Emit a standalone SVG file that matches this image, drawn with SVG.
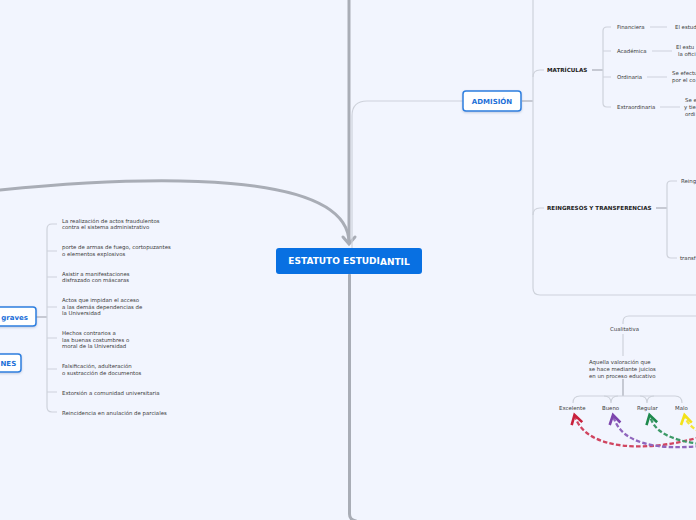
<svg xmlns="http://www.w3.org/2000/svg" width="696" height="520" viewBox="0 0 696 520">
<style>
.bg{fill:#f2f5fe}
.main{fill:none;stroke:#a9adb6;stroke-width:3;stroke-linecap:round}
.lc{fill:none;stroke:#ced2db;stroke-width:1.2}
.dc{fill:none;stroke:#b3b7c0;stroke-width:1.4}
.t{font-family:"DejaVu Sans",Verdana,sans-serif;font-size:5.4px;fill:#3a3a3a}
.b{font-family:"DejaVu Sans",Verdana,sans-serif;font-size:5.6px;font-weight:bold;fill:#222}
.nb{fill:#ffffff;stroke:#2b7fe0;stroke-width:1.5}
.nt{font-family:"DejaVu Sans",Verdana,sans-serif;font-size:7px;font-weight:bold;fill:#1c6fd8}
.da{fill:none;stroke-width:2.3;stroke-dasharray:4.5 2.2}
</style>
<defs>
<filter id="sh" x="-20%" y="-20%" width="140%" height="160%"><feDropShadow dx="0" dy="1" stdDeviation="0.8" flood-color="#8aa0c0" flood-opacity="0.5"/></filter>
<marker id="mr" markerUnits="userSpaceOnUse" markerWidth="20" markerHeight="20" viewBox="-12 -10 16 20" refX="0" refY="0" orient="auto"><path d="M-9,-5.5 L0,0 L-9,5.5" fill="none" stroke="#c8203c" stroke-width="2.6"/></marker>
<marker id="mp" markerUnits="userSpaceOnUse" markerWidth="20" markerHeight="20" viewBox="-12 -10 16 20" refX="0" refY="0" orient="auto"><path d="M-9,-5.5 L0,0 L-9,5.5" fill="none" stroke="#7d45ad" stroke-width="2.6"/></marker>
<marker id="mg" markerUnits="userSpaceOnUse" markerWidth="20" markerHeight="20" viewBox="-12 -10 16 20" refX="0" refY="0" orient="auto"><path d="M-9,-5.5 L0,0 L-9,5.5" fill="none" stroke="#1f8a4e" stroke-width="2.6"/></marker>
<marker id="my" markerUnits="userSpaceOnUse" markerWidth="20" markerHeight="20" viewBox="-12 -10 16 20" refX="0" refY="0" orient="auto"><path d="M-9,-5.5 L0,0 L-9,5.5" fill="none" stroke="#f3e21a" stroke-width="2.6"/></marker>
</defs>
<rect class="bg" x="0" y="0" width="696" height="520"/>

<g id="connectors">
  <path class="main" d="M349,0 V243"/>
  <path class="main" d="M0,190 C150,175 349,170 349,243"/>
  <path class="main" d="M343,237 L349,244 L355,237"/>
  <path class="main" d="M349.5,275 V514 Q349.5,520 356,521"/>
  <path class="lc" d="M463,101 H367 Q352,101 352,116 V248"/>
  <path class="dc" d="M522,101 H533"/>
  <path class="lc" d="M533,0 V288 Q533,295 540,295 H700"/>
  <path class="lc" d="M533,77 Q533,70 540,70 H544"/>
  <path class="lc" d="M533,215 Q533,208 540,208 H544"/>
  <path class="dc" d="M592,70 H603"/>
  <path class="lc" d="M611,27 H607 Q603,27 603,31 V103 Q603,107 607,107 H611"/>
  <path class="lc" d="M603,51 H611 M603,77 H611"/>
  <path class="lc" d="M650,27 H667 M652,51 H672 M647,77 H667 M660,107 H680"/>
  <path class="dc" d="M656,208 H667"/>
  <path class="lc" d="M677,181 H671 Q667,181 667,185 V254 Q667,258 671,258 H677"/>
  <path class="lc" d="M700,316 H629 Q623,316 623,322 V324"/>
  <path class="lc" d="M623,334 V356"/>
  <path class="dc" d="M623,379 V396"/>
  <path class="lc" d="M573,403 Q573,396 580,396 H675 Q682,396 682,403"/>
  <path class="lc" d="M604,396 Q611,396 611,403 Q611,396 618,396"/>
  <path class="lc" d="M640,396 Q647,396 647,403 Q647,396 654,396"/>
  <path class="dc" d="M36,317 H47"/>
  <path class="lc" d="M57,224 H52 Q47,224 47,229 V407 Q47,412 52,412 H57"/>
  <path class="lc" d="M47,251 H57 M47,277 H57 M47,307 H57 M47,338 H57 M47,369 H57 M47,392 H57"/>
  <path class="da" stroke="#d04560" d="M700,437 C650,452 585,452 574.5,415" marker-end="url(#mr)"/>
  <path class="da" stroke="#9066bd" d="M700,446 C660,450 620,445 613,415" marker-end="url(#mp)"/>
  <path class="da" stroke="#3d9a68" d="M700,444 C670,440 654,432 649.5,415" marker-end="url(#mg)"/>
  <path class="da" stroke="#f5e43a" d="M700,432 C692,428 686,422 684.5,415" marker-end="url(#my)"/>
</g>

<g id="central">
  <rect x="276" y="248" width="146" height="26" rx="3" fill="#0870e2"/>
  <text x="349" y="264" text-anchor="middle" font-family="'DejaVu Sans',Verdana,sans-serif" font-size="9" font-weight="bold" fill="#ffffff">ESTATUTO ESTUDI<tspan dy="1">ANTIL</tspan></text>
</g>

<g id="admision">
  <rect class="nb" x="463" y="91" width="58" height="20" rx="3" filter="url(#sh)"/>
  <text class="nt" x="492" y="104" text-anchor="middle">ADMISIÓN</text>
</g>

<g id="matriculas"><text class="b" x="547" y="72">MATRÍCULAS</text></g>
<g id="financiera"><text class="t" x="617" y="29">Financiera</text></g>
<g id="academica"><text class="t" x="617" y="53">Académica</text></g>
<g id="ordinaria"><text class="t" x="617" y="79">Ordinaria</text></g>
<g id="extraordinaria"><text class="t" x="617" y="109">Extraordinaria</text></g>
<g id="fin-desc"><text class="t" x="675" y="29">El estud</text></g>
<g id="aca-desc"><text class="t" x="676" y="49">El estu</text><text class="t" x="678" y="56">la ofici</text></g>
<g id="ord-desc"><text class="t" x="672" y="75">Se efectu</text><text class="t" x="672" y="82">por el co</text></g>
<g id="ext-desc"><text class="t" x="685" y="102">Se e</text><text class="t" x="684" y="109">y tie</text><text class="t" x="685" y="116">ordi</text></g>

<g id="reingresos"><text class="b" x="547" y="210">REINGRESOS Y TRANSFERENCIAS</text></g>
<g id="reingreso"><text class="t" x="681" y="183">Reing</text></g>
<g id="transferencia"><text class="t" x="680" y="260">transf</text></g>

<g id="cualitativa"><text class="t" x="610" y="331">Cualitativa</text></g>
<g id="cual-desc">
  <text class="t" x="589" y="364">Aquella valoración que</text>
  <text class="t" x="589" y="371">se hace mediante juicios</text>
  <text class="t" x="589" y="377.5">en un proceso educativo</text>
</g>
<g id="excelente"><text class="t" x="559" y="410">Excelente</text></g>
<g id="bueno"><text class="t" x="602" y="410">Bueno</text></g>
<g id="regular"><text class="t" x="637" y="410">Regular</text></g>
<g id="malo"><text class="t" x="675" y="410">Malo</text></g>

<g id="graves">
  <rect class="nb" x="-30" y="307" width="66" height="19" rx="3" filter="url(#sh)"/>
  <text class="nt" x="28" y="320" text-anchor="end">graves</text>
</g>
<g id="sanciones">
  <rect class="nb" x="-40" y="354" width="61" height="18" rx="3" filter="url(#sh)"/>
  <text class="nt" x="0.5" y="366" font-size="6">NES</text>
</g>

<g id="f1"><text class="t" x="62" y="222.5">La realización de actos fraudulentos</text><text class="t" x="62" y="229">contra el sistema administrativo</text></g>
<g id="f2"><text class="t" x="62" y="249">porte de armas de fuego, cortopuzantes</text><text class="t" x="62" y="256">o elementos explosivos</text></g>
<g id="f3"><text class="t" x="62" y="276">Asistir a manifestaciones</text><text class="t" x="62" y="282">disfrazado con máscaras</text></g>
<g id="f4"><text class="t" x="62" y="302">Actos que impidan el acceso</text><text class="t" x="62" y="309">a las demás dependencias de</text><text class="t" x="62" y="315">la Universidad</text></g>
<g id="f5"><text class="t" x="62" y="335">Hechos contrarios a</text><text class="t" x="62" y="342">las buenas costumbres o</text><text class="t" x="62" y="348">moral de la Universidad</text></g>
<g id="f6"><text class="t" x="62" y="368">Falsificación, adulteración</text><text class="t" x="62" y="375">o sustracción de documentos</text></g>
<g id="f7"><text class="t" x="62" y="395">Extorsión a comunidad universitaria</text></g>
<g id="f8"><text class="t" x="62" y="415">Reincidencia en anulación de parciales</text></g>
</svg>
